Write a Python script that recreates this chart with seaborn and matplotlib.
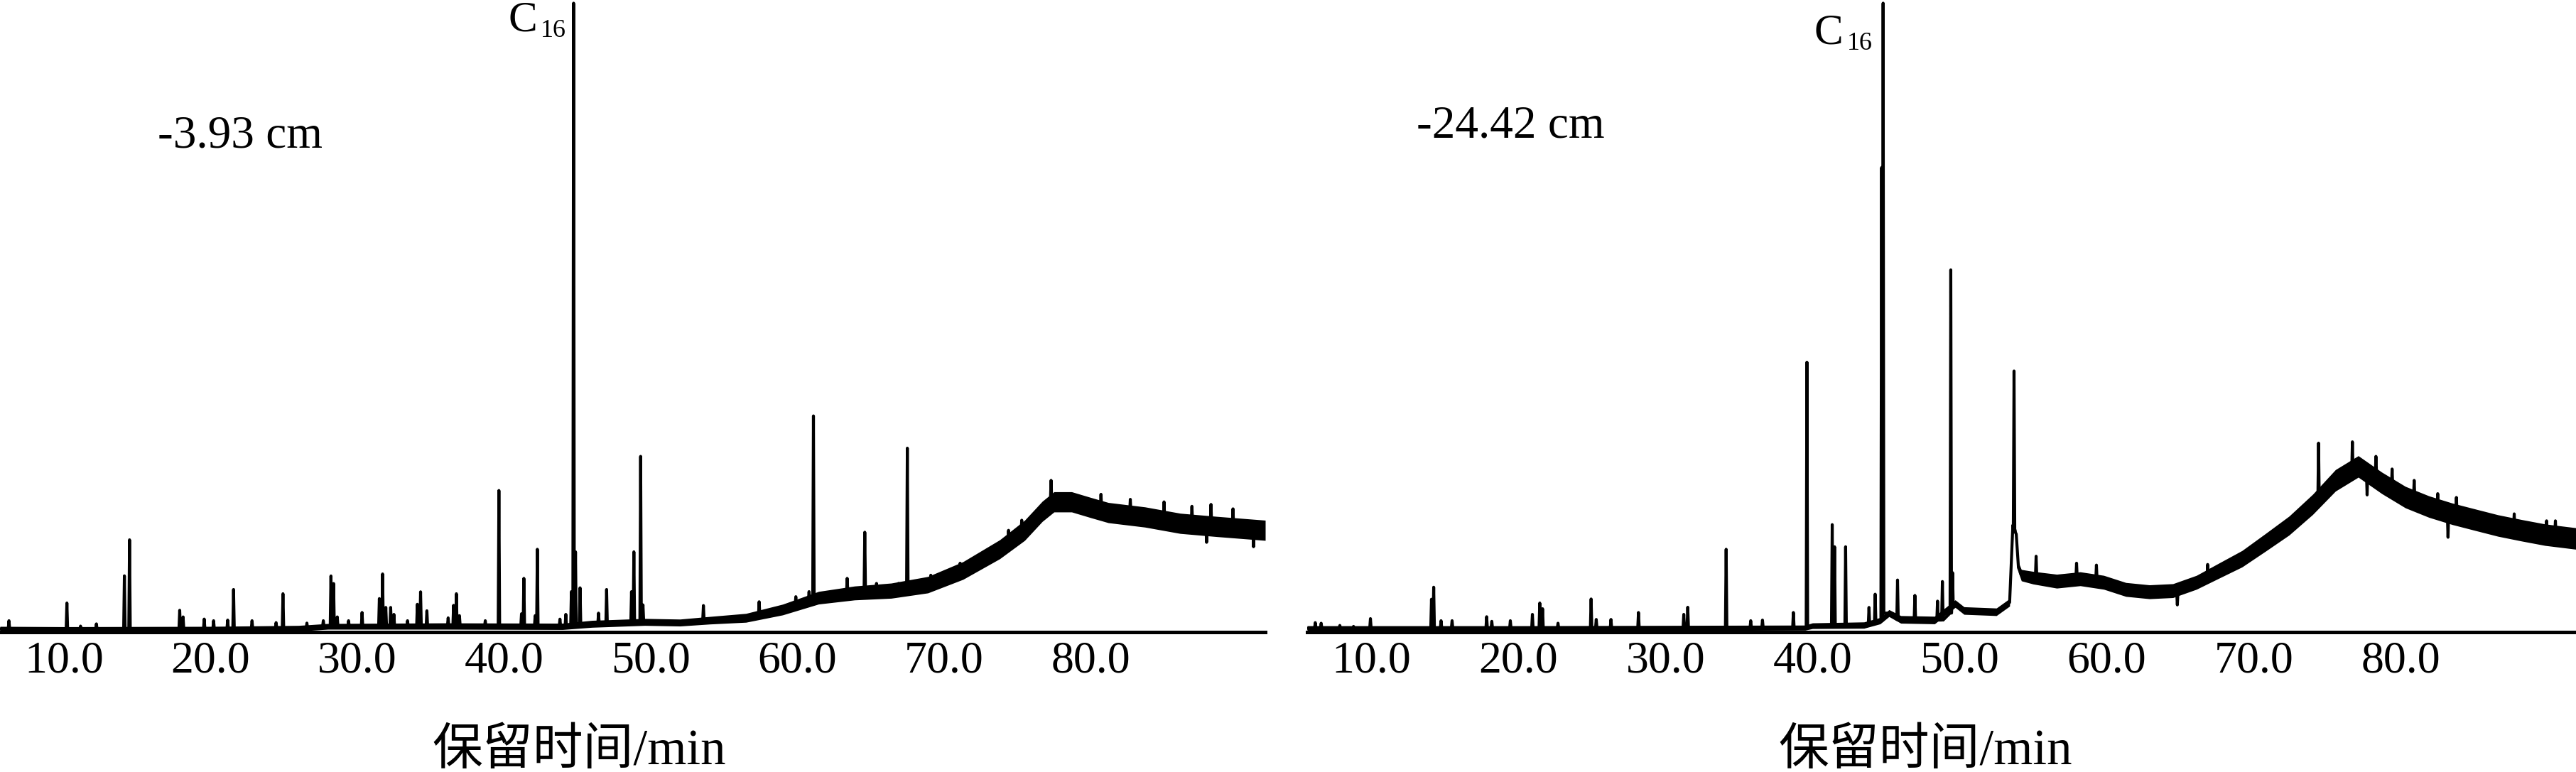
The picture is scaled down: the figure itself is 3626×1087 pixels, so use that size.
"""Two GC chromatograms (-3.93 cm and -24.42 cm) side by side."""

import pandas as pd
import matplotlib
matplotlib.use("Agg")  # non-interactive backend
import matplotlib.pyplot as plt
import seaborn as sns

# retention time axis (min)
time_range = (5.65, 91.9)
tick_times = [10, 20, 30, 40, 50, 60, 70, 80]
tick_labels = ["10.0", "20.0", "30.0", "40.0", "50.0", "60.0", "70.0", "80.0"]
sample_labels = ["-3.93 cm", "-24.42 cm"]
x_label = "保留时间/min"

# ---- -3.93 cm: baseline / hump (time, intensity, noise half-amplitude)
shallow_base_t = [5.65, 10, 20, 26, 28, 36, 44, 46, 49.6, 52, 54.05, 56.5, 59.0, 61.45, 63.9,
                  66.4, 68.9, 71.3, 73.8, 75.5, 76.7, 77.5, 78.7, 80.0, 81.2, 83.7, 86.1, 88.6, 91.9]
shallow_base_i = [0.5, 0.45, 0.5, 0.6, 0.9, 0.95, 0.9, 1.3, 1.6, 1.5, 1.87, 2.25, 3.56, 5.43, 6.18,
                  6.55, 7.49, 9.74, 13.1, 16.1, 19.1, 20.6, 20.6, 19.7, 18.9, 18.2, 17.2, 16.7, 16.1]
shallow_noise = [0.4, 0.4, 0.4, 0.45, 0.45, 0.5, 0.5, 0.55, 0.55, 0.55, 0.6, 0.7, 0.85, 1.0, 1.1,
                 1.2, 1.3, 1.4, 1.5, 1.6, 1.6, 1.6, 1.6, 1.6, 1.6, 1.6, 1.6, 1.6, 1.6]

# ---- -3.93 cm: peaks (time, foot, apex)
shallow_peak_t = [6.26, 10.21, 11.14, 12.22, 14.13, 14.48, 17.9, 18.13, 19.57, 20.21,
                  21.17, 21.57, 22.83, 24.47, 24.94, 26.57, 27.69, 28.21, 28.39, 28.64,
                  29.41, 30.33, 31.51, 31.73, 31.95, 32.28, 32.5, 33.43, 34.1, 34.32,
                  34.75, 36.2, 36.57, 36.76, 36.97, 38.73, 39.66, 41.2, 41.36, 42.13,
                  42.28, 43.82, 44.22, 44.6, 44.75, 44.88, 45.19, 46.45, 47.0, 48.7,
                  48.86, 49.32, 49.48, 53.6, 57.4, 59.9, 60.8, 61.1, 63.4, 64.6,
                  65.4, 66.9, 67.5, 69.1, 71.1, 72.8, 74.4, 75.3, 77.3, 80.7,
                  82.7, 85.0, 86.9, 87.9, 88.2, 89.7, 91.1]
shallow_peak_foot = [0.5, 0.45, 0.45, 0.45, 0.5, 0.5, 0.5, 0.5, 0.5, 0.5,
                     0.55, 0.55, 0.55, 0.6, 0.6, 0.6, 0.9, 0.9, 0.9, 0.9,
                     0.9, 0.9, 0.9, 0.9, 0.9, 0.9, 0.9, 0.9, 0.9, 0.9,
                     0.9, 0.95, 0.95, 0.95, 0.95, 0.9, 0.9, 0.9, 0.9, 0.9,
                     0.9, 0.9, 0.9, 0.9, 1.3, 1.3, 1.3, 1.3, 1.3, 1.5,
                     1.5, 1.6, 1.6, 1.8, 2.6, 4.2, 4.9, 5.3, 6.1, 6.3,
                     6.4, 6.7, 7.2, 7.6, 9.4, 11.5, 14.3, 15.8, 20.6, 19.4,
                     18.7, 17.6, 17.1, 16.9, 16.8, 16.5, 16.2]
shallow_peak_top = [1.8, 4.6, 0.95, 1.3, 8.9, 14.6, 3.45, 2.4, 2.06, 1.8,
                    1.9, 6.74, 1.8, 1.5, 6.07, 1.42, 1.8, 8.88, 7.68, 2.4,
                    1.8, 3.1, 5.3, 9.2, 3.9, 3.9, 2.8, 1.8, 4.4, 6.37,
                    3.37, 2.25, 4.23, 6.07, 2.6, 1.8, 22.4, 2.9, 8.5, 2.6,
                    13.1, 2.05, 2.8, 6.4, 99.5, 12.7, 7.0, 3.0, 6.74, 6.4,
                    12.7, 27.8, 4.3, 4.2, 4.8, 5.6, 6.4, 34.2, 8.5, 15.8,
                    7.7, 7.7, 29.1, 9.0, 10.9, 12.4, 16.1, 17.7, 24.0, 21.8,
                    21.0, 20.6, 19.9, 14.2, 20.2, 19.5, 13.5]

# ---- -24.42 cm: baseline / hump
deep_base_t = [5.65, 14, 20, 30, 39.5, 40.0, 43.5, 44.6, 45.2, 46.0, 48.3, 49.7, 50.3, 52.5,
               53.4, 53.62, 53.85, 54.0, 54.2, 55.0, 56.6, 58.2, 59.8, 61.3, 62.9, 64.5, 66.1,
               67.65, 69.2, 70.8, 72.4, 74.0, 75.55, 77.1, 78.7, 80.3, 81.9, 83.5, 85.0, 86.6,
               88.2, 89.8, 91.9]
deep_base_i = [0.6, 0.6, 0.6, 0.65, 0.7, 1.0, 1.1, 1.8, 3.0, 2.0, 1.9, 4.5, 3.4, 3.2,
               4.7, 16.9, 15.5, 10.2, 9.0, 8.6, 8.05, 8.43, 7.87, 6.74, 6.37, 6.55, 7.87,
               9.74, 11.6, 14.2, 16.85, 20.2, 24.0, 26.2, 23.6, 21.35, 19.85, 18.7, 17.8, 16.85,
               16.1, 15.4, 14.8]
deep_noise = [0.4, 0.4, 0.4, 0.4, 0.4, 0.45, 0.5, 0.5, 0.55, 0.6, 0.6, 0.6, 0.6, 0.6,
              0.6, 0.6, 0.7, 0.8, 0.9, 1.0, 1.1, 1.1, 1.1, 1.1, 1.1, 1.1, 1.1,
              1.2, 1.3, 1.4, 1.5, 1.6, 1.7, 1.7, 1.7, 1.7, 1.7, 1.7, 1.7, 1.7,
              1.7, 1.7, 1.7]

# ---- -24.42 cm: peaks
deep_peak_t = [6.2, 6.6, 7.87, 8.8, 9.95, 14.1, 14.25, 14.75, 15.5, 17.85,
               18.2, 19.46, 20.96, 21.46, 21.65, 22.7, 24.95, 25.3, 26.3, 28.17,
               31.25, 31.52, 34.13, 35.8, 36.6, 38.7, 39.62, 41.34, 41.5, 42.25,
               43.84, 44.26, 44.7, 44.8, 45.78, 46.96, 48.5, 48.83, 49.4, 49.52,
               53.7, 55.2, 57.95, 59.3, 64.8, 66.86, 74.4, 76.7, 77.7, 78.3,
               79.4, 80.9, 82.5, 83.2, 83.77, 87.7, 89.9, 90.5]
deep_peak_foot = [0.6, 0.6, 0.6, 0.6, 0.6, 0.6, 0.6, 0.6, 0.6, 0.6,
                  0.6, 0.6, 0.6, 0.6, 0.6, 0.6, 0.6, 0.6, 0.6, 0.65,
                  0.65, 0.65, 0.65, 0.65, 0.65, 0.7, 0.7, 1.0, 1.0, 1.0,
                  1.1, 1.5, 1.8, 3.0, 2.0, 2.0, 1.9, 1.9, 3.0, 4.0,
                  16.0, 8.5, 8.3, 8.0, 6.6, 8.4, 20.5, 25.0, 25.5, 24.6,
                  22.6, 21.0, 19.4, 18.9, 18.6, 16.3, 15.4, 15.3]
deep_peak_top = [1.5, 1.4, 1.05, 0.9, 2.13, 5.2, 7.1, 1.8, 1.8, 2.43,
                 1.7, 1.8, 2.8, 4.6, 3.7, 1.4, 5.24, 2.0, 2.0, 3.1,
                 2.8, 3.93, 13.1, 1.8, 1.9, 3.1, 42.7, 17.0, 13.5, 13.5,
                 3.9, 6.0, 73.5, 99.5, 8.24, 5.8, 4.9, 8.0, 57.3, 9.4,
                 41.3, 12.0, 10.9, 10.6, 4.3, 10.7, 29.9, 30.1, 21.7, 27.8,
                 25.8, 24.0, 21.9, 15.0, 21.3, 18.7, 17.6, 17.6]

W, H = 3626, 1087  # output size in pixels
SERIF = ["Liberation Serif", "Noto Sans CJK SC"]


def build_trace(base_t, base_i, peak_t, peak_foot, peak_top, half_width=0.05):
    """Merge baseline knots and narrow peaks into one time-sorted trace."""
    times = list(base_t)
    values = list(base_i)
    for t, foot, top in zip(peak_t, peak_foot, peak_top):
        times += [t - half_width, t, t + half_width]
        values += [foot, top, foot]
    df = pd.DataFrame({"time": times, "intensity": values})
    return df.sort_values("time", kind="stable").reset_index(drop=True)


def draw_panel(ax, base_t, base_i, noise, trace):
    lo = [b - n for b, n in zip(base_i, noise)]
    hi = [b + n for b, n in zip(base_i, noise)]
    ax.fill_between(base_t, lo, hi, color="black", linewidth=0)
    sns.lineplot(data=trace, x="time", y="intensity", estimator=None, sort=False,
                 color="black", linewidth=3.0, ax=ax)
    ax.set_xlim(*time_range)
    ax.set_ylim(0, 100)
    sns.despine(ax=ax, left=True)
    ax.spines["bottom"].set_linewidth(3.6)
    ax.spines["bottom"].set_color("black")
    ax.set_xticks(tick_times, tick_labels)
    ax.set_yticks([])
    ax.tick_params(axis="x", length=0, pad=9, labelsize=46, colors="black")
    for lab in ax.get_xticklabels():
        lab.set_family(SERIF)
    ax.set_xlabel("")
    ax.set_ylabel("")


def px_text(fig, x, y, s, size, **kw):
    """Place text using pixel coordinates measured from the top-left corner."""
    fig.text(x / W, 1 - y / H, s, fontsize=size, family=SERIF, color="black", **kw)


sns.set_theme(style="white")
plt.rcParams["font.family"] = SERIF

fig = plt.figure(figsize=(W / 100, H / 100), dpi=100)
bottom = (H - 890) / H
ax_left = fig.add_axes([0 / W, bottom, 1781 / W, 1 - bottom])
ax_right = fig.add_axes([1840 / W, bottom, (W - 1840) / W, 1 - bottom])

shallow_trace = build_trace(shallow_base_t, shallow_base_i, shallow_peak_t,
                            shallow_peak_foot, shallow_peak_top)
deep_trace = build_trace(deep_base_t, deep_base_i, deep_peak_t, deep_peak_foot, deep_peak_top)

draw_panel(ax_left, shallow_base_t, shallow_base_i, shallow_noise, shallow_trace)
draw_panel(ax_right, deep_base_t, deep_base_i, deep_noise, deep_trace)

# sample depth labels
px_text(fig, 222, 208, sample_labels[0], 47, va="baseline", ha="left")
px_text(fig, 1994, 194, sample_labels[1], 47, va="baseline", ha="left")

# C16 peak labels
px_text(fig, 715, 43, "C", 44, va="baseline", ha="left")
px_text(fig, 761, 52, "16", 26, va="baseline", ha="left")
px_text(fig, 2554, 62, "C", 44, va="baseline", ha="left")
px_text(fig, 2600, 70, "16", 26, va="baseline", ha="left")

# axis titles
px_text(fig, 815, 1058, x_label, 51, va="center", ha="center")
px_text(fig, 2710, 1058, x_label, 51, va="center", ha="center")

fig.savefig("out.png", dpi=100)
plt.close(fig)
